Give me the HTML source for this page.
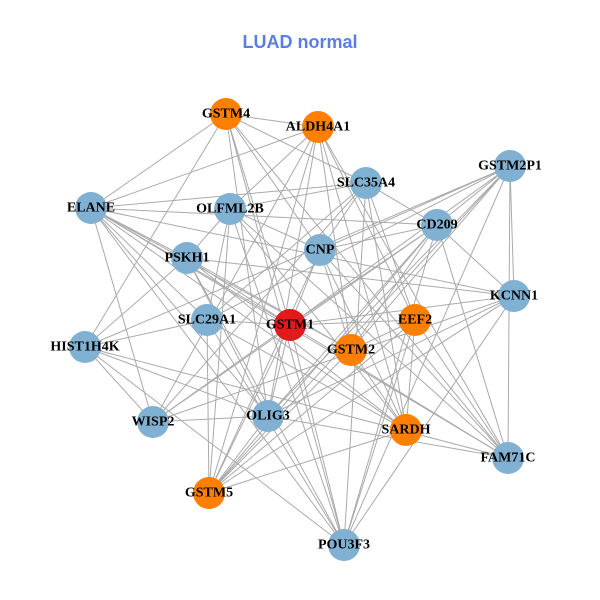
<!DOCTYPE html>
<html><head><meta charset="utf-8"><style>
html,body{margin:0;padding:0;background:#fff;}
svg{display:block}
text.l{font-family:"Liberation Serif",serif;font-weight:bold;font-size:14px;fill:#000;text-anchor:middle;dominant-baseline:central}
</style></head><body>
<svg id="s" width="600" height="600" viewBox="0 0 600 600">
<text x="300" y="48" text-anchor="middle" font-family="Liberation Sans, sans-serif" font-weight="bold" font-size="18" fill="#5a7ee6">LUAD normal</text>
<g id="edges" stroke="#aaaaaa" stroke-width="1"></g>
<g id="nodes"></g>
<g>
<text class="l" x="226" y="114">GSTM4</text>
<text class="l" x="318" y="127">ALDH4A1</text>
<text class="l" x="510" y="166">GSTM2P1</text>
<text class="l" x="366" y="183">SLC35A4</text>
<text class="l" x="91" y="208">ELANE</text>
<text class="l" x="230" y="209">OLFML2B</text>
<text class="l" x="437" y="225">CD209</text>
<text class="l" x="320" y="250">CNP</text>
<text class="l" x="187" y="258">PSKH1</text>
<text class="l" x="514" y="296">KCNN1</text>
<text class="l" x="207" y="320">SLC29A1</text>
<text class="l" x="290" y="325">GSTM1</text>
<text class="l" x="415" y="320">EEF2</text>
<text class="l" x="351" y="350">GSTM2</text>
<text class="l" x="85" y="347">HIST1H4K</text>
<text class="l" x="268" y="416">OLIG3</text>
<text class="l" x="153" y="422">WISP2</text>
<text class="l" x="406" y="430">SARDH</text>
<text class="l" x="508" y="458">FAM71C</text>
<text class="l" x="209" y="493">GSTM5</text>
<text class="l" x="344" y="545">POU3F3</text>
</g>
</svg>
<script>
var N=[[226,114,1],[318,127,1],[510,166,0],[366,183,0],[91,208,0],[230,209,0],[437,225,0],[320,250,0],[187,258,0],[514,296,0],[207,320,0],[290,325,2],[415,320,1],[351,350,1],[85,347,0],[268,416,0],[153,422,0],[406,430,1],[508,458,0],[209,493,1],[344,545,0]];
var ns="http://www.w3.org/2000/svg",E=document.getElementById("edges"),G=document.getElementById("nodes");
var seed=7;function r(){seed=(seed*16807)%2147483647;return seed/2147483647;}
for(var i=0;i<N.length;i++)for(var j=i+1;j<N.length;j++){
 var p=(i==11||j==11)?0.9:0.52;
 if(r()<p){var l=document.createElementNS(ns,"line");l.setAttribute("x1",N[i][0]);l.setAttribute("y1",N[i][1]);l.setAttribute("x2",N[j][0]);l.setAttribute("y2",N[j][1]);E.appendChild(l);}
}
var C=["#80b1d3","#ff7f00","#e31a1c"];
N.forEach(function(n){var c=document.createElementNS(ns,"circle");c.setAttribute("cx",n[0]);c.setAttribute("cy",n[1]);c.setAttribute("r",16);c.setAttribute("fill",C[n[2]]);G.appendChild(c);});
</script>
</body></html>
